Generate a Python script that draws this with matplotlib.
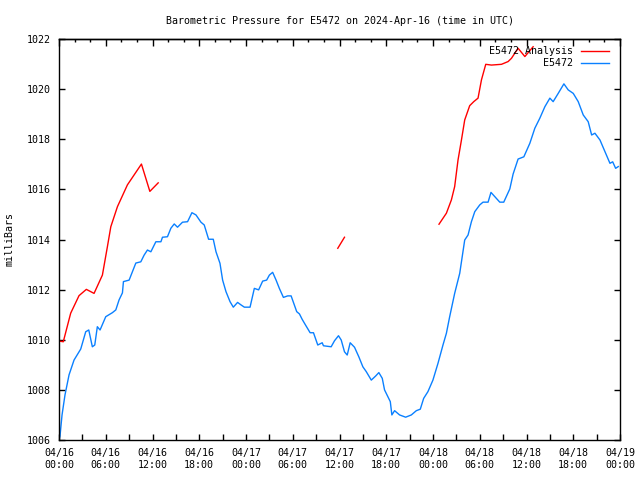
import numpy as np
import pandas as pd
import matplotlib
matplotlib.use('Agg')
import matplotlib.pyplot as plt
import matplotlib.dates as mdates

plt.rcParams['font.family'] = ['DejaVu Sans Mono']
plt.rcParams['font.size'] = 7.2

# ---- data (hours after 2024-04-16 00:00 UTC, pressure in mb) ----
start = pd.Timestamp('2024-04-16 00:00')

obs_hours = [0, 0.13, 0.39, 0.77, 1.29, 1.93, 2.79, 3.43, 3.82, 4.28, 4.59, 4.92, 5.27,
             6.0, 6.85, 7.29, 7.71, 8.14, 8.27, 9.0, 9.86, 10.5, 10.93, 11.35, 11.79,
             12.43, 13.08, 13.28, 13.92, 14.36, 14.79, 15.21, 15.85, 16.5, 17.06, 17.58,
             18.22, 18.64, 19.2, 19.8, 20.15, 20.66, 21.0, 21.43, 21.95, 22.37, 22.92,
             23.36, 23.79, 24.52, 25.07, 25.62, 26.14, 26.65, 27.0, 27.42, 27.86, 28.28,
             28.8, 29.35, 29.79, 30.21, 30.51, 30.86, 31.2, 31.5, 32.23, 32.66, 33.21,
             33.78, 33.94, 34.93, 35.36, 35.87, 36.22, 36.64, 36.99, 37.37, 37.93, 38.48,
             39.0, 39.43, 40.08, 40.63, 41.05, 41.49, 41.78, 42.21, 42.52, 42.72, 43.07,
             43.71, 44.49, 45.22, 45.86, 46.37, 46.8, 47.35, 47.99, 48.64, 49.28, 49.72,
             50.14, 50.78, 51.43, 52.07, 52.5, 52.93, 53.36, 54.0, 54.42, 55.07, 55.44,
             55.93, 56.57, 57.08, 57.86, 58.28, 58.92, 59.66, 60.43, 61.07, 61.71, 62.36,
             63.0, 63.42, 64.07, 64.8, 65.35, 66.0, 66.64, 67.28, 67.92, 68.36, 68.78,
             69.43, 70.07, 70.71, 71.06, 71.44, 71.78]
obs_mb = [1006.0, 1006.16, 1007.0, 1007.8, 1008.6, 1009.19, 1009.63, 1010.32, 1010.39,
          1009.72, 1009.79, 1010.52, 1010.39, 1010.92, 1011.08, 1011.19, 1011.59, 1011.87,
          1012.32, 1012.38, 1013.06, 1013.11, 1013.38, 1013.58, 1013.51, 1013.91, 1013.91,
          1014.09, 1014.11, 1014.45, 1014.62, 1014.49, 1014.69, 1014.71, 1015.07, 1014.98,
          1014.69, 1014.58, 1014.01, 1014.01, 1013.51, 1013.05, 1012.38, 1011.92, 1011.52,
          1011.3, 1011.49, 1011.39, 1011.3, 1011.3, 1012.05, 1011.99, 1012.34, 1012.38,
          1012.58, 1012.69, 1012.38, 1012.05, 1011.69, 1011.75, 1011.75, 1011.39, 1011.12,
          1011.03, 1010.82, 1010.66, 1010.28, 1010.28, 1009.79, 1009.88, 1009.76, 1009.72,
          1009.96, 1010.16, 1009.99, 1009.52, 1009.39, 1009.88, 1009.7, 1009.32, 1008.92,
          1008.73, 1008.39, 1008.55, 1008.69, 1008.46, 1008.0, 1007.73, 1007.53, 1007.0,
          1007.17, 1007.0, 1006.91, 1007.0, 1007.17, 1007.23, 1007.66, 1007.93, 1008.39,
          1009.06, 1009.79, 1010.26, 1010.92, 1011.85, 1012.65, 1013.98, 1014.18, 1014.71,
          1015.11, 1015.38, 1015.49, 1015.49, 1015.88, 1015.71, 1015.49, 1015.49, 1016.02,
          1016.61, 1017.21, 1017.3, 1017.84, 1018.44, 1018.84, 1019.3, 1019.64, 1019.5,
          1019.83, 1020.21, 1019.97, 1019.83, 1019.5, 1018.97, 1018.7, 1018.17, 1018.24,
          1017.97, 1017.5, 1017.04, 1017.1, 1016.84, 1016.91]

# analysis has gaps -> NaN separates the pieces
ana_hours = [0, 0.55, 1.5, 2.57, 3.51, 4.5, 5.57, 6.21, 6.65, 7.5, 8.78, 10.58, 11.66, 12.73,
             13.0,
             35.78, 36.64,
             37.0,
             48.77, 49.72, 50.36, 50.78, 51.21, 51.65, 52.07, 52.71, 53.23, 53.78, 54.22,
             54.77, 55.5, 56.79, 57.64, 58.07, 58.92, 59.79, 60.85]
ana_mb = [1009.95, 1009.92, 1011.06, 1011.76, 1012.01, 1011.85, 1012.58, 1013.71, 1014.51,
          1015.31, 1016.18, 1017.01, 1015.92, 1016.26,
          np.nan,
          1013.65, 1014.09,
          np.nan,
          1014.61, 1015.05, 1015.58, 1016.11, 1017.17, 1017.97, 1018.77, 1019.34, 1019.5,
          1019.64, 1020.37, 1020.99, 1020.96, 1020.99, 1021.1, 1021.23, 1021.63, 1021.3,
          1021.69]

obs_t = start + pd.to_timedelta(obs_hours, unit='h')
ana_t = start + pd.to_timedelta(ana_hours, unit='h')

fig = plt.figure(figsize=(6.4, 4.8), dpi=100)
ax = fig.add_axes([59 / 640, 40 / 480, 561 / 640, 401 / 480])

ax.plot(ana_t, ana_mb, color='#ff0000', lw=1, label='E5472 Analysis')
ax.plot(obs_t, obs_mb, color='#0a80ff', lw=1, label='E5472')

ax.set_xlim(start, start + pd.Timedelta(hours=72))
ax.set_ylim(1006, 1022)
ax.set_yticks(np.arange(1006, 1023, 2))
ax.xaxis.set_major_locator(mdates.HourLocator(byhour=[0, 6, 12, 18]))
ax.xaxis.set_minor_locator(mdates.HourLocator(byhour=[3, 9, 15, 21]))
ax.xaxis.set_major_formatter(mdates.DateFormatter('%m/%d\n%H:%M'))
ax.tick_params(which='both', direction='in', top=False, right=True, width=1, length=4)
ax.tick_params(which='major', pad=6)
for s in ax.spines.values():
    s.set_linewidth(1)

# top edge: ticks every 2 h, longer every 6 h
top = ax.secondary_xaxis('top')
top.xaxis.set_major_locator(mdates.HourLocator(byhour=[0, 6, 12, 18]))
top.xaxis.set_minor_locator(mdates.HourLocator(byhour=list(range(0, 24, 2))))
top.tick_params(which='both', direction='in', labeltop=False, width=1)
top.tick_params(which='major', length=5)
top.tick_params(which='minor', length=2.5)
top.spines['top'].set_linewidth(1)

ax.set_ylabel('milliBars', labelpad=8.5)
ax.set_title('Barometric Pressure for E5472 on 2024-Apr-16 (time in UTC)',
             fontsize=7.2, pad=11)
ax.legend(loc='upper right', bbox_to_anchor=(1 - 3.5 / 561, 1), frameon=False,
          markerfirst=False, handlelength=2.8, borderaxespad=0.35,
          labelspacing=0.2, handletextpad=0.8)

fig.savefig('out.png', dpi=100)
